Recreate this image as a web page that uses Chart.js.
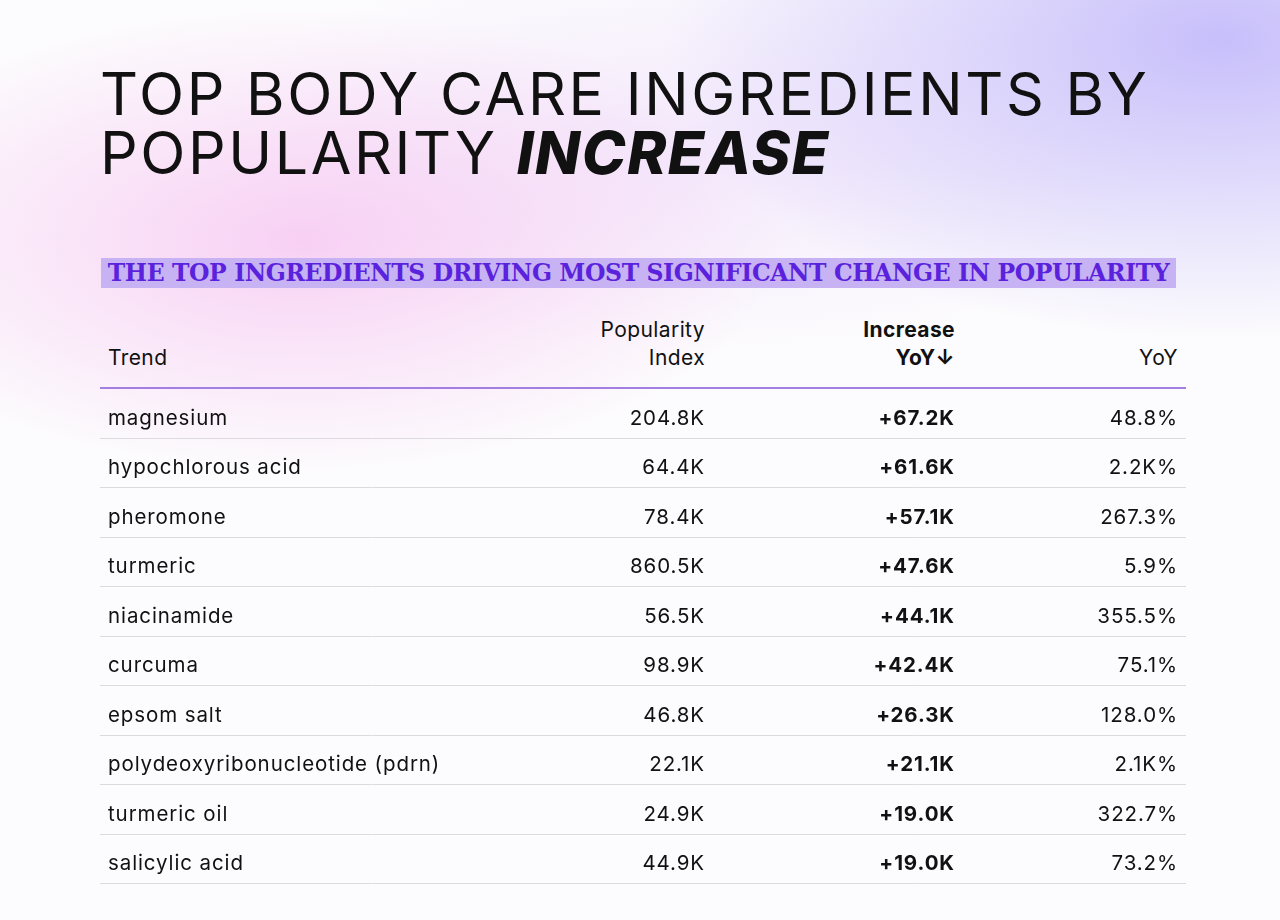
<!DOCTYPE html>
<html>
<head>
<meta charset="utf-8">
<script src="https://cdn.jsdelivr.net/npm/chart.js@4"></script>
<style>
body{margin:0;width:1280px;height:920px;overflow:hidden;font-family:Inter,sans-serif;color:#111;
background:
 radial-gradient(ellipse 480px 230px at 300px 240px, rgba(246,190,240,0.7), rgba(246,190,240,0) 100%),
 radial-gradient(ellipse 560px 300px at 1220px 40px, rgba(190,180,250,0.85), rgba(190,180,250,0) 100%),
 radial-gradient(ellipse 500px 200px at 700px 150px, rgba(235,215,250,0.5), rgba(235,215,250,0) 100%),
 #fcfbfd;}
#page{position:relative;width:1280px;height:920px}
h1{position:absolute;left:100px;top:64px;margin:0;font-weight:400;font-size:59px;line-height:59px;letter-spacing:2.6px}
h1 b{font-weight:800;font-style:italic;letter-spacing:1.5px}
#sub{position:absolute;left:101px;top:258px;width:1075px;height:30px;background:#c7b2f4;color:#5a22dc;
 font-family:"DejaVu Serif",serif;font-weight:bold;font-size:23.5px;line-height:30px;text-align:center;letter-spacing:-0.4px;white-space:nowrap}
.h{position:absolute;font-size:21px;line-height:28px;letter-spacing:0.4px}
#line{position:absolute;left:100px;top:387px;width:1086px;height:1.5px;background:#a27fe0}
#wrap{position:absolute;left:100px;top:389px;width:1086px;height:495px}
</style>
</head>
<body>
<div id="page">
<h1>TOP BODY CARE INGREDIENTS BY<br>POPULARITY <b>INCREASE</b></h1>
<div id="sub">THE TOP INGREDIENTS DRIVING MOST SIGNIFICANT CHANGE IN POPULARITY</div>
<div class="h" style="left:108px;top:344px">Trend</div>
<div class="h" style="right:575px;top:316px;text-align:right">Popularity<br>Index</div>
<div class="h" style="right:325px;top:316px;text-align:right;font-weight:700">Increase<br>YoY↓</div>
<div class="h" style="right:102px;top:344px">YoY</div>
<div id="line"></div>
<div id="wrap"><canvas id="myChart"></canvas></div>
</div>
<script>
const rows = [
	{Trend:"magnesium", Index:"204.8K", Increase:67.2, YoY:"48.8%"},
	{Trend:"hypochlorous acid", Index:"64.4K", Increase:61.6, YoY:"2.2K%"},
	{Trend:"pheromone", Index:"78.4K", Increase:57.1, YoY:"267.3%"},
	{Trend:"turmeric", Index:"860.5K", Increase:47.6, YoY:"5.9%"},
	{Trend:"niacinamide", Index:"56.5K", Increase:44.1, YoY:"355.5%"},
	{Trend:"curcuma", Index:"98.9K", Increase:42.4, YoY:"75.1%"},
	{Trend:"epsom salt", Index:"46.8K", Increase:26.3, YoY:"128.0%"},
	{Trend:"polydeoxyribonucleotide (pdrn)", Index:"22.1K", Increase:21.1, YoY:"2.1K%"},
	{Trend:"turmeric oil", Index:"24.9K", Increase:19.0, YoY:"322.7%"},
	{Trend:"salicylic acid", Index:"44.9K", Increase:19.0, YoY:"73.2%"}
];
// draw table cells at the y-scale row positions
const tablePlugin = {
	id:'table',
	afterDraw(chart){
		const ctx = chart.ctx, y = chart.scales.y;
		const band = (y.bottom - y.top) / rows.length;
		ctx.save();
		ctx.letterSpacing = '0.9px';
		for (let i=0;i<rows.length;i++){
			const cy = y.getPixelForValue(i) + 5;
			const r = rows[i];
			ctx.textBaseline = 'middle';
			ctx.fillStyle = '#111';
			ctx.font = '400 20.5px Inter';
			ctx.textAlign = 'left';
			ctx.fillText(r.Trend, 8, cy);
			ctx.textAlign = 'right';
			ctx.fillText(r.Index, 605, cy);
			ctx.fillText(r.YoY, 1078, cy);
			ctx.font = '700 20.5px Inter';
			ctx.fillText('+' + r.Increase.toFixed(1) + 'K', 855, cy);
			const by = Math.round(y.getPixelForValue(i) + band/2) - 0.5;
			ctx.strokeStyle = '#dcdae0';
			ctx.lineWidth = 1;
			ctx.beginPath(); ctx.moveTo(0, by); ctx.lineTo(chart.width, by); ctx.stroke();
		}
		ctx.restore();
	}
};
new Chart(document.getElementById('myChart').getContext('2d'), {
	type:'bar',
	data:{
		labels: rows.map(r => r.Trend),
		datasets:[{label:'Increase YoY', data: rows.map(r => r.Increase), backgroundColor:'rgba(0,0,0,0)'}]
	},
	options:{
		indexAxis:'y', responsive:true, maintainAspectRatio:false, animation:false,
		layout:{padding:0},
		plugins:{legend:{display:false}, tooltip:{enabled:false}},
		scales:{x:{display:false, min:0}, y:{display:false}}
	},
	plugins:[tablePlugin]
});
</script>
</body>
</html>
